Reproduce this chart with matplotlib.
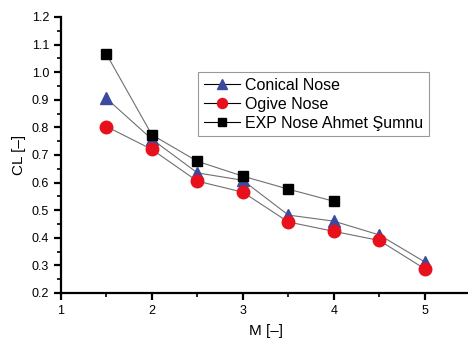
import matplotlib
matplotlib.use("Agg")
import matplotlib.pyplot as plt
from matplotlib.ticker import MultipleLocator

# Data
mach = [1.5, 2, 2.5, 3, 3.5, 4, 4.5, 5]
cl_conical = [0.905, 0.757, 0.635, 0.608, 0.482, 0.46, 0.41, 0.312]
cl_ogive = [0.803, 0.72, 0.605, 0.565, 0.457, 0.423, 0.39, 0.287]
mach_exp = [1.5, 2, 2.5, 3, 3.5, 4]
cl_exp = [1.066, 0.773, 0.677, 0.623, 0.576, 0.532]

plt.rcParams['font.family'] = ['Liberation Sans', 'DejaVu Sans']

fig = plt.figure(figsize=(4.68, 3.39), dpi=100)
ax = fig.add_axes([0.130, 0.136, 0.875, 0.814])

ax.plot(mach, cl_conical, color='#707070', lw=0.8, marker='^', ms=9,
        mfc='#3b4a9e', mec='#3b4a9e', label='Conical Nose')
ax.plot(mach, cl_ogive, color='#707070', lw=0.8, marker='o', ms=9,
        mfc='#e8101c', mec='#e8101c', label='Ogive Nose')
ax.plot(mach_exp, cl_exp, color='#707070', lw=0.8, marker='s', ms=7.5,
        mfc='black', mec='black', label='EXP Nose Ahmet Şumnu')

ax.set_xlim(1, 5.5)
ax.set_ylim(0.2, 1.2)
ax.xaxis.set_major_locator(MultipleLocator(1))
ax.xaxis.set_minor_locator(MultipleLocator(0.5))
ax.yaxis.set_major_locator(MultipleLocator(0.1))
ax.yaxis.set_minor_locator(MultipleLocator(0.05))
ax.yaxis.set_major_formatter(matplotlib.ticker.FormatStrFormatter('%.1f'))

for s in ['top', 'right']:
    ax.spines[s].set_visible(False)
for s in ['left', 'bottom']:
    ax.spines[s].set_linewidth(1.6)
ax.tick_params(which='major', direction='out', length=5, width=1.6, labelsize=9)
ax.tick_params(which='minor', direction='out', length=3, width=1.2)

ax.set_xlabel('M [–]', fontsize=11, labelpad=5)
ax.set_ylabel('CL [–]', fontsize=11)

leg = ax.legend(loc='upper left', bbox_to_anchor=(0.335, 0.80), fontsize=11.5,
                frameon=True, fancybox=False, borderpad=0.35, labelspacing=0.25,
                handlelength=2.3, handletextpad=0.3, borderaxespad=0,
                markerscale=0.8)
leg.get_frame().set_edgecolor('#808080')
leg.get_frame().set_linewidth(0.8)
for h in leg.legend_handles:
    h.set_color('black')

fig.savefig('out.png', dpi=100)
